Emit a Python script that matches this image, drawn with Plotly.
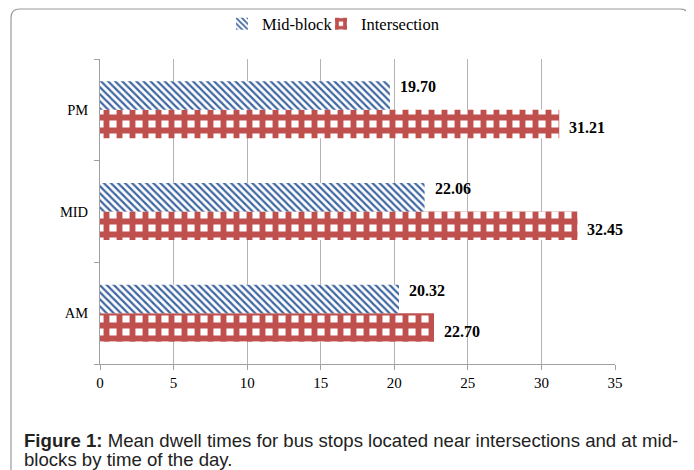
import plotly.graph_objects as go

categories = ["AM", "MID", "PM"]
mid_block = [20.32, 22.06, 19.70]
intersection = [22.70, 32.45, 31.21]
x_ticks = [0, 5, 10, 15, 20, 25, 30, 35]

serif = "Liberation Serif, Times New Roman, serif"
sans_narrow = "Liberation Sans Narrow, Arial Narrow, Liberation Sans, sans-serif"

# page body has an 8px margin, so the figure is drawn 8px smaller and
# all reference pixel positions are shifted by -8
OFF = 8
W, H = 694 - OFF, 470 - OFF
L, R, T, B = 100 - OFF, 79, 59 - OFF, 106
pw, ph = W - L - R, H - T - B


def px(xpix):
    return (xpix - OFF - L) / pw


def py(ypix):
    return (H - B - (ypix - OFF)) / ph


def legend_box(xpix):
    return dict(orientation="h", xref="container", yref="container",
                x=(xpix - OFF) / W, y=1 - (24 - OFF) / H,
                xanchor="left", yanchor="middle",
                font=dict(family=serif, size=16.5, color="black"),
                itemwidth=30, bgcolor="rgba(0,0,0,0)")


fig = go.Figure()
fig.add_trace(go.Bar(
    y=categories, x=intersection, orientation="h", name="Intersection",
    legend="legend2",
    marker=dict(color="white", line=dict(width=0),
                pattern=dict(shape="+", fgcolor="#C0504D", bgcolor="white",
                             fgopacity=1, size=13, solidity=0.7)),
))
fig.add_trace(go.Bar(
    y=categories, x=mid_block, orientation="h", name="Mid-block",
    legend="legend",
    marker=dict(color="white", line=dict(width=0),
                pattern=dict(shape="\\", fgcolor="#3F67A0", bgcolor="white",
                             fgopacity=1, size=5, solidity=0.45)),
))

annotations = []
for c, v in zip(categories, mid_block):
    annotations.append(dict(x=v, y=c, xref="x", yref="y", text=f"<b>{v:.2f}</b>",
                            showarrow=False, xanchor="left", xshift=8, yshift=23,
                            font=dict(family=serif, size=16, color="black")))
for c, v in zip(categories, intersection):
    annotations.append(dict(x=v, y=c, xref="x", yref="y", text=f"<b>{v:.2f}</b>",
                            showarrow=False, xanchor="left", xshift=8, yshift=-18,
                            font=dict(family=serif, size=16, color="black")))

caption_lines = [
    "<b>Figure 1:</b> Mean dwell times for bus stops located near intersections and at mid-",
    "blocks by time of the day.",
]
for line, ypix in zip(caption_lines, [440, 459]):
    annotations.append(dict(
        x=px(22), y=py(ypix), xref="paper", yref="paper", xanchor="left",
        yanchor="middle", showarrow=False, align="left", text=line,
        font=dict(family=sans_narrow, size=18.6, color="#222222"),
    ))

# rounded frame
x0, x1, y0, y1, r = 11, 689, 9, 480, 9
path = (f"M {px(x0)},{py(y1)} L {px(x0)},{py(y0 + r)} "
        f"Q {px(x0)},{py(y0)} {px(x0 + r)},{py(y0)} "
        f"L {px(x1 - r)},{py(y0)} Q {px(x1)},{py(y0)} {px(x1)},{py(y0 + r)} "
        f"L {px(x1)},{py(y1)}")
shapes = [dict(type="path", xref="paper", yref="paper", path=path,
               line=dict(color="#9A9A9A", width=1.2))]

fig.update_layout(
    width=W, height=H,
    margin=dict(l=L, r=R, t=T, b=B, autoexpand=False),
    paper_bgcolor="white", plot_bgcolor="white",
    barmode="group", bargap=0.44, bargroupgap=0,
    showlegend=True,
    legend=legend_box(222),
    legend2=legend_box(321),
    xaxis=dict(range=[0, 35], tickvals=x_ticks, showgrid=True, gridcolor="#B4B4B4",
               gridwidth=1, zeroline=False, showline=True, linecolor="#A0A0A0",
               ticks="outside", ticklen=5, tickcolor="#A0A0A0",
               tickfont=dict(family=serif, size=15, color="black")),
    yaxis=dict(categoryorder="array", categoryarray=categories, showgrid=False,
               showline=True, linecolor="#A0A0A0", ticks="outside", ticklen=5,
               tickcolor="#A0A0A0", tickson="boundaries", zeroline=False,
               ticklabelstandoff=8,
               tickfont=dict(family=serif, size=14.5, color="black")),
    annotations=annotations,
    shapes=shapes,
)

fig.write_html("out.html")
